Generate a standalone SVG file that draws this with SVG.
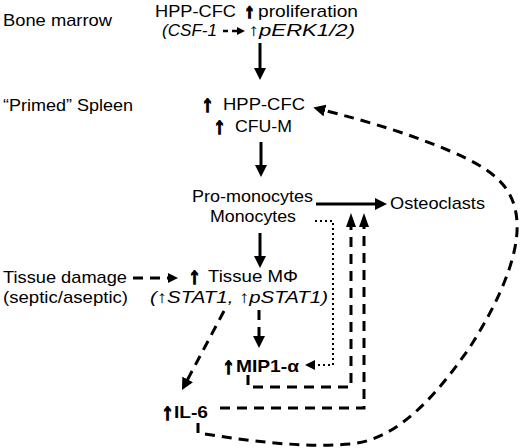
<svg xmlns="http://www.w3.org/2000/svg" width="520" height="448" viewBox="0 0 520 448">
<style>
text{font-family:"Liberation Sans",Arial,"DejaVu Sans",sans-serif;font-size:17px;fill:#000}
.i{font-style:italic}
.b{font-weight:bold}
.up{font-weight:bold;font-size:22px;stroke:#000;stroke-width:1.8;stroke-linejoin:miter}
.up.sm{font-size:18px;stroke-width:2.2}
.s{fill:none;stroke:#000;stroke-width:3}
.d{fill:none;stroke:#000;stroke-width:3;stroke-dasharray:10 7}
.o{fill:none;stroke:#000;stroke-width:2;stroke-dasharray:2 3}
</style>
<defs>
<marker id="ah" viewBox="0 0 12 12" refX="2" refY="6" markerWidth="12" markerHeight="12" markerUnits="userSpaceOnUse" orient="auto"><path d="M0,0 L12,6 L0,12 z"/></marker>
<marker id="as" viewBox="0 0 10 10" refX="2" refY="5" markerWidth="10" markerHeight="10" markerUnits="userSpaceOnUse" orient="auto"><path d="M0,0 L10,5 L0,10 z"/></marker>
<marker id="an" viewBox="0 0 14 10" refX="2" refY="5" markerWidth="14" markerHeight="10" markerUnits="userSpaceOnUse" orient="auto"><path d="M0,0 L14,5 L0,10 z"/></marker>
<marker id="at" viewBox="0 0 8 8" refX="1" refY="4" markerWidth="8" markerHeight="8" markerUnits="userSpaceOnUse" orient="auto"><path d="M0,0 L8,4 L0,8 z"/></marker>
</defs>

<g id="label-bone-marrow"><text x="3" y="26" textLength="109" lengthAdjust="spacingAndGlyphs">Bone marrow</text></g>
<g id="label-spleen"><text x="3" y="111" textLength="130" lengthAdjust="spacingAndGlyphs">“Primed” Spleen</text></g>
<g id="label-tissue-damage">
<text x="3" y="283" textLength="124" lengthAdjust="spacingAndGlyphs">Tissue damage</text>
<text x="3" y="303" textLength="125" lengthAdjust="spacingAndGlyphs">(septic/aseptic)</text>
</g>

<g id="node-bm-hppcfc">
<text x="155" y="17" textLength="81" lengthAdjust="spacingAndGlyphs">HPP-CFC</text>
<text class="up sm" x="245" y="17">↑</text>
<text x="258" y="17" textLength="100" lengthAdjust="spacingAndGlyphs">proliferation</text>
<text class="i" x="162" y="36" textLength="55" lengthAdjust="spacingAndGlyphs">(CSF-1</text>
<text class="i" x="248" y="36" textLength="107" lengthAdjust="spacingAndGlyphs">↑pERK1/2)</text>
</g>

<g id="node-spleen">
<text class="up" x="202" y="111">↑</text>
<text x="223" y="110" textLength="82" lengthAdjust="spacingAndGlyphs">HPP-CFC</text>
<text class="up" x="214" y="133">↑</text>
<text x="235" y="132" textLength="57" lengthAdjust="spacingAndGlyphs">CFU-M</text>
</g>

<g id="node-monocytes">
<text x="192" y="202" textLength="121" lengthAdjust="spacingAndGlyphs">Pro-monocytes</text>
<text x="210" y="222" textLength="86" lengthAdjust="spacingAndGlyphs">Monocytes</text>
</g>

<g id="node-osteoclasts"><text x="390" y="209" textLength="95" lengthAdjust="spacingAndGlyphs">Osteoclasts</text></g>

<g id="node-tissue-mphi">
<text class="up" x="189" y="283">↑</text>
<text x="208" y="282" textLength="90" lengthAdjust="spacingAndGlyphs">Tissue MΦ</text>
<text class="i" x="150" y="303" textLength="178" lengthAdjust="spacingAndGlyphs">(↑STAT1, ↑pSTAT1)</text>
</g>

<g id="node-mip1a">
<text class="up" x="223" y="373">↑</text>
<text class="b" x="236" y="372" textLength="63" lengthAdjust="spacingAndGlyphs">MIP1-α</text>
</g>

<g id="node-il6">
<text class="up" x="162" y="419">↑</text>
<text class="b" x="174" y="418" textLength="34" lengthAdjust="spacingAndGlyphs">IL-6</text>
</g>

<g id="connectors">
<path class="s" d="M260,43 V70" marker-end="url(#ah)"/>
<path class="s" d="M261,142 V167" marker-end="url(#ah)"/>
<path class="s" d="M260,233 V258" marker-end="url(#ah)"/>
<path class="s" d="M316,204 H377" marker-end="url(#ah)"/>
<path class="o" d="M315,221 H333 V365 H313" marker-end="url(#as)"/>
<path class="d" d="M133,278 H170" marker-end="url(#as)"/>
<path fill="none" stroke="#000" stroke-width="2.5" stroke-dasharray="5 4" d="M223,31 H238" marker-end="url(#at)"/>
<path class="d" d="M259,310 V338" marker-end="url(#ah)"/>
<path class="d" d="M224,311 L186.7,381.2" marker-end="url(#ah)"/>
<path class="d" d="M248,375 V387 H351 V225" marker-end="url(#an)"/>
<path class="d" d="M220,408 H364 V225" marker-end="url(#an)"/>
<path class="d" d="M198,423 V433 C250,441 300,448 350,444 C400,440 440,390 470,347 C500,300 519,255 517,222 C515,185 490,168 450,151 C410,134 370,122 323,110" marker-end="url(#ah)"/>
</g>
</svg>
